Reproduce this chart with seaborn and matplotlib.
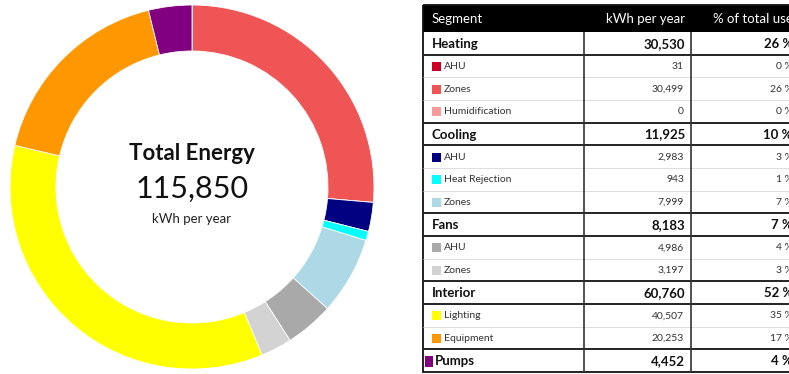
import matplotlib
matplotlib.use("Agg")
import matplotlib.pyplot as plt
from matplotlib.patches import Rectangle
import pandas as pd
import seaborn as sns

# Energy breakdown per end use (kWh per year)
segment_group = ["Heating", "Heating", "Heating",
                 "Cooling", "Cooling", "Cooling",
                 "Fans", "Fans",
                 "Interior", "Interior",
                 "Pumps"]
segment_names = ["AHU", "Zones", "Humidification",
                 "AHU", "Heat Rejection", "Zones",
                 "AHU", "Zones",
                 "Lighting", "Equipment",
                 "Pumps"]
segment_kwh = [31, 30499, 0,
               2983, 943, 7999,
               4986, 3197,
               40507, 20253,
               4452]
segment_colors = ["#cc0022", "#f05555", "#f99a9a",
                  "#000080", "#00ffff", "#add8e6",
                  "#a9a9a9", "#d3d3d3",
                  "#ffff00", "#ff9800",
                  "#800080"]
group_order = ["Heating", "Cooling", "Fans", "Interior", "Pumps"]
column_labels = ["Segment", "kWh per year", "% of total use"]

df = pd.DataFrame({"group": segment_group, "name": segment_names,
                   "kwh": segment_kwh, "color": segment_colors})
total = int(df["kwh"].sum())
group_sum = df.groupby("group", sort=False)["kwh"].sum()

sns.set_theme(style="white")
FONT = ["Lato", "DejaVu Sans"]
plt.rcParams["font.family"] = FONT

W, H = 789, 374
fig = plt.figure(figsize=(W / 100, H / 100), dpi=100)
fig.patch.set_facecolor("white")

# ---- donut ----
cx, cy, R = 192, 187, 182
ring = 46
ax = fig.add_axes([(cx - R) / W, (H - cy - R) / H, 2 * R / W, 2 * R / H])
ax.pie(df["kwh"], colors=df["color"], startangle=90, counterclock=False,
       radius=1.0, wedgeprops=dict(width=ring / R, edgecolor="white",
                                   linewidth=0.6))
ax.set_xlim(-1, 1)
ax.set_ylim(-1, 1)
ax.set_aspect("equal")
ax.axis("off")

# ---- overlay in pixel coordinates ----
ov = fig.add_axes([0, 0, 1, 1], facecolor="none")
ov.set_xlim(0, W)
ov.set_ylim(H, 0)
ov.axis("off")

ov.text(cx, 153, "Total Energy", ha="center", va="center", fontsize=16,
        fontweight="bold", color="#111111")
ov.text(cx, 189, f"{total:,}", ha="center", va="center", fontsize=22,
        fontweight="normal", color="#111111")
ov.text(cx, 219, "kWh per year", ha="center", va="center", fontsize=9.5,
        color="#222222")

# ---- table ----
x0, x1, x2, x3 = 423, 584, 691, 798
top, head_h = 5, 27
row_h = (372 - (top + head_h)) / 15

rows = []
for g in group_order:
    sub = df[df["group"] == g]
    if len(sub) == 1 and sub["name"].iloc[0] == g:
        rows.append(dict(kind="group", label=g, kwh=int(sub["kwh"].iloc[0]),
                         color=sub["color"].iloc[0]))
    else:
        rows.append(dict(kind="group", label=g, kwh=int(group_sum[g]),
                         color=None))
        for _, r in sub.iterrows():
            rows.append(dict(kind="sub", label=r["name"], kwh=int(r["kwh"]),
                             color=r["color"]))

bottom = top + head_h + row_h * len(rows)

ov.add_patch(Rectangle((x0, top), x3 - x0, head_h, facecolor="black",
                       edgecolor="none"))
hy = top + head_h / 2 + 0.5
ov.text(x0 + 9, hy, column_labels[0], color="white", fontsize=9.5,
        ha="left", va="center")
ov.text(x2 - 6, hy, column_labels[1], color="white", fontsize=9.5,
        ha="right", va="center")
ov.text(x3 - 5, hy, column_labels[2], color="white", fontsize=9.5,
        ha="right", va="center")

for i, r in enumerate(rows):
    yt = top + head_h + i * row_h
    yc = yt + row_h / 2 + 0.5
    pct = f"{round(r['kwh'] / total * 100)} %"
    if r["kind"] == "group":
        tx = x0 + 9
        if r["color"] is not None:
            ov.add_patch(Rectangle((x0 + 2.5, yc - 5.5), 8, 11,
                                   facecolor=r["color"], edgecolor="none"))
            tx = x0 + 12
        ov.text(tx, yc, r["label"], fontsize=9.5, fontweight="bold",
                color="#111111", ha="left", va="center")
        ov.text(x2 - 6, yc, f"{r['kwh']:,}", fontsize=9.5, fontweight="bold",
                color="#111111", ha="right", va="center")
        ov.text(x3 - 5, yc, pct, fontsize=9.5, fontweight="bold",
                color="#111111", ha="right", va="center")
    else:
        ov.add_patch(Rectangle((x0 + 9, yc - 4.5), 9, 9,
                               facecolor=r["color"], edgecolor="none"))
        ov.text(x0 + 21, yc, r["label"], fontsize=7.5, color="#333333",
                ha="left", va="center")
        ov.text(x2 - 7, yc, f"{r['kwh']:,}", fontsize=7.5, color="#333333",
                ha="right", va="center")
        ov.text(x3 - 5, yc, pct, fontsize=7.5, color="#333333",
                ha="right", va="center")

# horizontal rules: heavy next to group rows, light between sub rows
for i in range(1, len(rows)):
    y = top + head_h + i * row_h
    heavy = rows[i]["kind"] == "group" or rows[i - 1]["kind"] == "group"
    if heavy:
        ov.plot([x0, x3], [y, y], color="#222222", lw=1.4,
                solid_capstyle="butt")
    else:
        ov.plot([x0, x3], [y, y], color="#dddddd", lw=0.7,
                solid_capstyle="butt")

# column separators
for x in (x1, x2):
    ov.plot([x, x], [top + head_h, bottom], color="#333333", lw=1.2,
            solid_capstyle="butt")

# outer frame
ov.add_patch(Rectangle((x0, top), x3 - x0, bottom - top, facecolor="none",
                       edgecolor="#111111", lw=1.3))

fig.savefig("out.png", dpi=100, facecolor="white")
